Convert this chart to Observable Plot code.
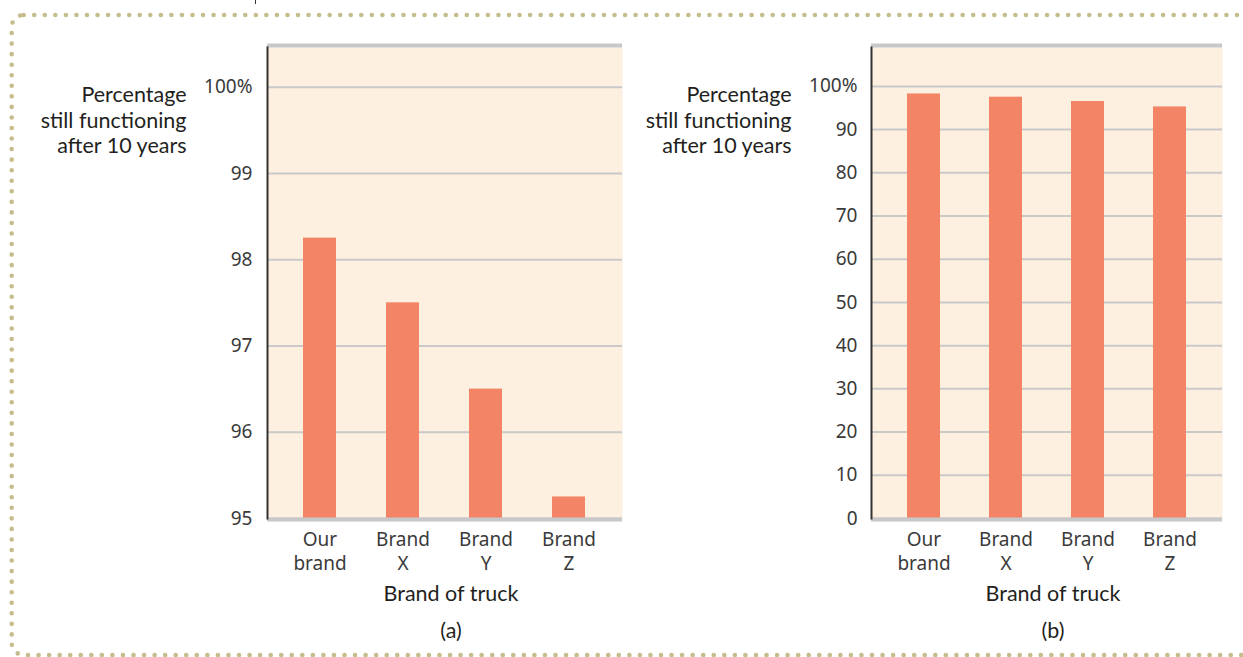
<!DOCTYPE html>
<html>
<head>
<meta charset="utf-8">
<script src="https://cdn.jsdelivr.net/npm/d3@7"></script>
<script src="https://cdn.jsdelivr.net/npm/@observablehq/plot@0.6"></script>
<style>
  html, body { margin: 0; padding: 0; background: #ffffff; }
  #wrap { position: relative; width: 1243px; height: 657px; overflow: hidden; background: #ffffff; }
  #wrap > .deco { position: absolute; left: 0; top: 0; }
  #wrap > .panel { position: absolute; top: 0; }
</style>
</head>
<body>
<div id="wrap">
  <svg class="deco" width="1243" height="657">
    <rect x="11.7" y="15" width="1245" height="640" rx="12" ry="12" fill="none"
          stroke="#c6bd8c" stroke-width="4.6" stroke-dasharray="0 10.55" stroke-linecap="round"/>
    <line x1="255.5" y1="0" x2="255.5" y2="4" stroke="#333" stroke-width="1"/>
  </svg>
</div>
<script>
// ---- data ----
const brands = ["Our brand", "Brand X", "Brand Y", "Brand Z"];
const brandTickLabels = ["Our\nbrand", "Brand\nX", "Brand\nY", "Brand\nZ"];
const percentStillFunctioning = [98.25, 97.5, 96.5, 95.25];
const ticksA = [95, 96, 97, 98, 99, 100];
const ticksB = [0, 10, 20, 30, 40, 50, 60, 70, 80, 90, 100];
const yLabel = "Percentage\nstill functioning\nafter 10 years";
const xLabel = "Brand of truck";
const panelLabels = ["(a)", "(b)"];

const data = brands.map((b, i) => ({brand: b, value: percentStillFunctioning[i]}));

const TICK_FONT = "'Noto Sans', 'Open Sans', sans-serif";
const LABEL_FONT = "Lato, 'Noto Sans', sans-serif";

function panel({width, marginLeft, marginRight, domain, ticks, label, paddingOuter, labelDx, tickPadding}) {
  return Plot.plot({
    width,
    height: 657,
    marginTop: 47,
    marginBottom: 139,
    marginLeft,
    marginRight,
    style: {background: "none", overflow: "visible", fontFamily: TICK_FONT},
    x: {domain: brands, paddingInner: 0.6, paddingOuter, align: 0.5},
    y: {domain},
    marks: [
      Plot.frame({fill: "#fdf0e1", stroke: null}),
      Plot.gridY(ticks, {stroke: "#c9c9c9", strokeOpacity: 1, strokeWidth: 2}),
      Plot.barY(data, {x: "brand", y1: domain[0], y2: "value", fill: "#f48466", clip: true}),
      Plot.ruleY([domain[1]], {stroke: "#c8c8ca", strokeWidth: 4, dy: -2}),
      Plot.ruleY([domain[0]], {stroke: "#c8c8ca", strokeWidth: 4, dy: 1}),
      Plot.frame({anchor: "left", stroke: "#333333", strokeWidth: 2}),
      Plot.axisY(ticks, {
        tickSize: 0, tickPadding,
        tickFormat: d => d === 100 ? "100%" : String(d),
        fontSize: 19, fill: "#3a3a3a", fontFamily: TICK_FONT, label: null
      }),
      Plot.axisX({
        tickSize: 0, tickPadding: 10,
        tickFormat: d => brandTickLabels[brands.indexOf(d)],
        fontSize: 19, lineHeight: 1.28, fill: "#3a3a3a", fontFamily: TICK_FONT, label: null
      }),
      Plot.text([yLabel], {
        frameAnchor: "top-left", dx: labelDx, dy: 72, textAnchor: "end", lineAnchor: "middle",
        fontSize: 21.5, lineHeight: 1.17, fill: "#231f20", fontFamily: LABEL_FONT
      }),
      Plot.text([xLabel], {
        frameAnchor: "bottom", dx: 6, dy: 76, lineAnchor: "middle",
        fontSize: 21.5, fill: "#231f20", fontFamily: LABEL_FONT
      }),
      Plot.text([label], {
        frameAnchor: "bottom", dx: 6, dy: 113, lineAnchor: "middle",
        fontSize: 21.5, fill: "#231f20", fontFamily: LABEL_FONT
      })
    ]
  });
}

const wrap = document.getElementById("wrap");

const a = panel({
  width: 630, marginLeft: 267, marginRight: 8,
  domain: [95, 100.46], ticks: ticksA, label: panelLabels[0],
  paddingOuter: 0.43, labelDx: -81, tickPadding: 15
});
a.classList.add("panel");
a.style.left = "0px";
wrap.appendChild(a);

const b = panel({
  width: 618, marginLeft: 246, marginRight: 21,
  domain: [0, 109], ticks: ticksB, label: panelLabels[1],
  paddingOuter: 0.42, labelDx: -80, tickPadding: 14
});
b.classList.add("panel");
b.style.left = "625px";
wrap.appendChild(b);
</script>
</body>
</html>
